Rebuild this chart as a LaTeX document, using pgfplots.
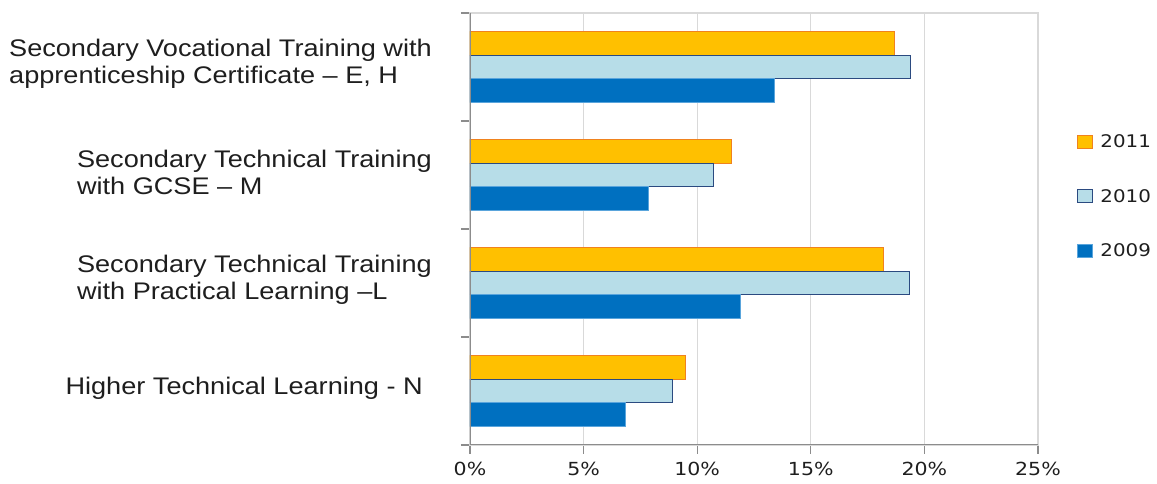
\documentclass[border=0pt]{standalone}
\usepackage{fontspec}
\usepackage{pgfplots}
\pgfplotsset{compat=1.18}

\newfontfamily\catfont[FakeStretch=1.13]{Liberation Sans}
\newfontfamily\tickfont[FakeStretch=1.14]{DejaVu Sans}

\definecolor{c2011}{HTML}{FFC000}
\definecolor{c2011e}{HTML}{F0821E}
\definecolor{c2010}{HTML}{B7DDE8}
\definecolor{c2010e}{HTML}{2B4A80}
\definecolor{c2009}{HTML}{0070C0}
\definecolor{c2009e}{HTML}{5AA5DC}
\definecolor{gridc}{HTML}{D9D9D9}
\definecolor{axisc}{HTML}{8C8C8C}
\definecolor{txt}{HTML}{1E1E1E}

% share of graduates by programme (%), categories from bottom (0) to top (3)
\pgfplotstableread{
y  v2011 v2010 v2009
3  18.7  19.4  13.4
2  11.5  10.7  7.85
1  18.2  19.35 11.9
0  9.5   8.9   6.85
}\shares

\pgfplotsset{
  legsq/.style={legend image code/.code={
      \draw[##1, line width=1.2pt] (0pt,-6.5pt) rectangle (15pt,6.5pt);}},
}

\begin{document}
\begin{tikzpicture}
\useasboundingbox (0,0) rectangle (1157pt,484pt);
\begin{axis}[
  at={(470pt,39pt)}, anchor=south west,
  scale only axis, width=568pt, height=432pt,
  xmin=0, xmax=25, ymin=-0.5, ymax=3.5,
  xbar, bar width=0.22,
  /pgf/number format/assume math mode=true,
  xtick={0,5,...,25},
  xticklabel={\pgfmathprintnumber{\tick}\%},
  xticklabel style={font=\tickfont\fontsize{18}{20}\selectfont, text=txt, yshift=-5pt},
  ytick={-0.5,0.5,1.5,2.5,3.5},
  yticklabels={},
  extra y ticks={0,1,2,3},
  extra y tick labels={
    Higher Technical Learning - N\hspace{9pt},
    {Secondary Technical Training\\with Practical Learning –L},
    {Secondary Technical Training\\with GCSE – M},
    {Secondary Vocational Training with\\apprenticeship Certificate – E, H}},
  extra y tick style={
    major tick length=0pt,
    yticklabel style={font=\catfont\fontsize{24}{27}\selectfont, text=txt,
      align=left, anchor=east, inner sep=0pt, xshift=-38pt, yshift=3pt}},
  tick pos=left, tick align=outside, major tick length=9pt,
  tick style={axisc, line width=1.3pt},
  xmajorgrids, grid style={gridc, line width=1.3pt},
  axis line style={gridc, line width=1.3pt},
  legend style={draw=none, fill=none, at={(1.0687,0.5757)}, anchor=west,
    font=\tickfont\fontsize{17.4}{20}\selectfont, text=txt,
    row sep=36pt, inner sep=0pt,
    /tikz/every odd column/.append style={column sep=5pt}},
  legend cell align=left,
]
\addplot[bar shift=0.22, fill=c2011, draw=c2011e, line width=1.2pt, legsq]
  table[x=v2011, y=y]{\shares};
\addplot[bar shift=0, fill=c2010, draw=c2010e, line width=1.2pt, legsq]
  table[x=v2010, y=y]{\shares};
\addplot[bar shift=-0.22, fill=c2009, draw=c2009e, line width=0.8pt, legsq]
  table[x=v2009, y=y]{\shares};
\legend{2011,2010,2009}
\draw[axisc, line width=1.3pt] (rel axis cs:0,1) -- (rel axis cs:0,0) -- (rel axis cs:1,0);
\end{axis}
\end{tikzpicture}
\end{document}
